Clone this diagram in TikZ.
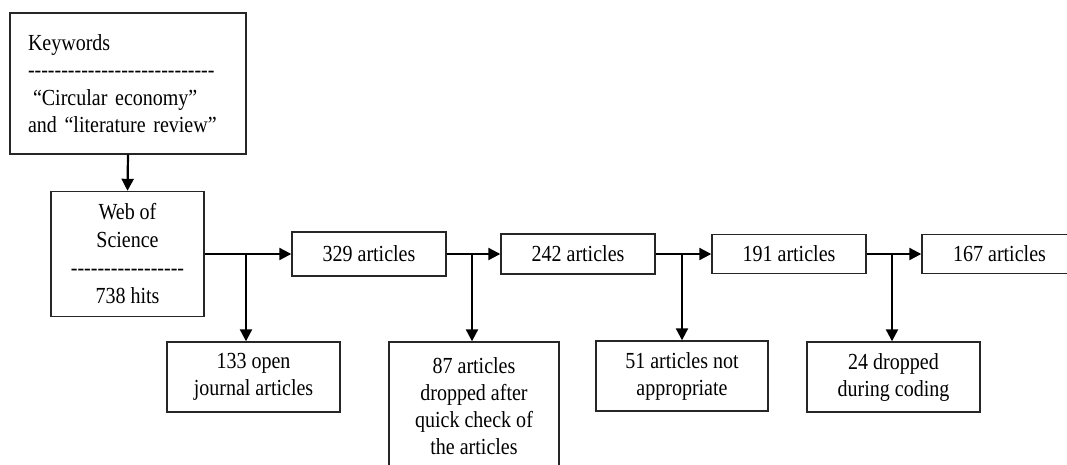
\documentclass[tikz,border=0pt]{standalone}
\usepackage{fontspec}
\setmainfont{Liberation Serif}[FakeStretch=0.87]
\usetikzlibrary{arrows.meta}
\newcommand\dashrow[1]{\foreach\i in {1,...,#1}{-}}
\tikzset{
  box/.style={draw=black!85, line width=1.4pt, inner sep=0pt, align=center,
    font=\fontsize{23}{27}\selectfont},
  conn/.style={line width=2.2pt, -{Triangle[length=12pt,width=12pt]}}
}
\begin{document}
\begin{tikzpicture}[x=1pt,y=-1pt]
\useasboundingbox (0,0) rectangle (1067,464);
\clip (0,0) rectangle (1067,464);
% main boxes
\node[box, minimum width=236pt, minimum height=141pt, align=left, text width=200pt, inner xsep=18pt,
  font=\fontsize{23}{27.5}\selectfont] (kw) at (128,83.5)
  {Keywords\\\dashrow{28}\\\hspace*{5pt}“Circular economy”\\and “literature review”\\[-4pt]};
\node[box, minimum width=153pt, minimum height=125pt, font=\fontsize{23}{28}\selectfont] (wos) at (127.5,254)
  {Web of\\Science\\\dashrow{17}\\738 hits};
\node[box, minimum width=154pt, minimum height=44pt] (a329) at (369,254) {329 articles};
\node[box, minimum width=154pt, minimum height=40pt] (a242) at (578,254) {242 articles};
\node[box, minimum width=154pt, minimum height=39pt] (a191) at (789,254) {191 articles};
\node[box, minimum width=155pt, minimum height=39pt] (a167) at (999.5,254) {167 articles};
% side boxes
\node[box, minimum width=173pt, minimum height=70pt] (b133) at (253.5,377) {133 open\\journal articles};
\node[box, minimum width=170pt, minimum height=128pt] (b87) at (474,406) {87 articles\\dropped after\\quick check of\\the articles};
\node[box, minimum width=172pt, minimum height=70pt] (b51) at (682,376) {51 articles not\\appropriate};
\node[box, minimum width=173pt, minimum height=70pt] (b24) at (893.5,377) {24 dropped\\during coding};
% junctions
\coordinate (j1) at (246,254);
\coordinate (j2) at (472,254);
\coordinate (j3) at (682,254);
\coordinate (j4) at (892,254);
% connectors
\draw[conn] (kw.south) -- (wos.north);
\draw[conn] (wos) -- (a329);
\draw[conn] (a329) -- (a242);
\draw[conn] (a242) -- (a191);
\draw[conn] (a191) -- (a167);
\draw[conn] (j1) -- (j1 |- b133.north);
\draw[conn] (j2) -- (j2 |- b87.north);
\draw[conn] (j3) -- (j3 |- b51.north);
\draw[conn] (j4) -- (j4 |- b24.north);
\end{tikzpicture}
\end{document}
